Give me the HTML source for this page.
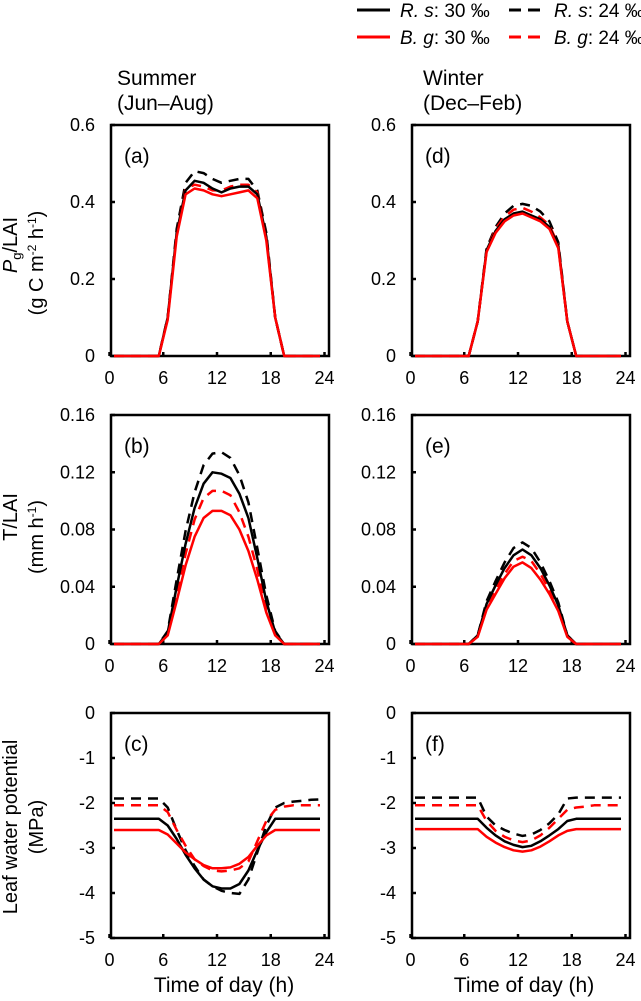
<!DOCTYPE html>
<html><head><meta charset="utf-8"><style>
html,body{margin:0;padding:0;background:#fff;}
svg{display:block;font-family:"Liberation Sans",Arial,sans-serif;}
</style></head><body>
<svg id="fig" width="641" height="1001" viewBox="0 0 641 1001" xmlns="http://www.w3.org/2000/svg">
<g font-size="19">
 <g><line x1="357" y1="10" x2="390" y2="10" stroke="#000" stroke-width="3"/><text x="400" y="17"><tspan font-style="italic">R. s</tspan>: 30 ‰</text></g>
 <g><line x1="509" y1="10" x2="546" y2="10" stroke="#000" stroke-width="3" stroke-dasharray="12,7"/><text x="554" y="17"><tspan font-style="italic">R. s</tspan>: 24 ‰</text></g>
 <g><line x1="357" y1="37" x2="390" y2="37" stroke="#f00" stroke-width="3"/><text x="400" y="44"><tspan font-style="italic">B. g</tspan>: 30 ‰</text></g>
 <g><line x1="509" y1="37" x2="546" y2="37" stroke="#f00" stroke-width="3" stroke-dasharray="12,7"/><text x="554" y="44"><tspan font-style="italic">B. g</tspan>: 24 ‰</text></g>
</g>
<text x="117" y="85" font-size="21">Summer</text>
<text x="117" y="110" font-size="21">(Jun–Aug)</text>
<text x="423" y="85" font-size="21">Winter</text>
<text x="423" y="110" font-size="21">(Dec–Feb)</text>
<g font-size="20">
 <text transform="translate(17,245) rotate(-90)" text-anchor="middle"><tspan font-style="italic">P</tspan><tspan font-size="13" dy="4">g</tspan><tspan dy="-4">/LAI</tspan></text>
 <text transform="translate(43,263) rotate(-90)" text-anchor="middle">(g C m<tspan font-size="12" dy="-7">-2</tspan><tspan dy="7"> h</tspan><tspan font-size="12" dy="-7">-1</tspan><tspan dy="7">)</tspan></text>
 <text transform="translate(17,517) rotate(-90)" text-anchor="middle">T/LAI</text>
 <text transform="translate(43,537) rotate(-90)" text-anchor="middle">(mm h<tspan font-size="12" dy="-7">-1</tspan><tspan dy="7">)</tspan></text>
 <text transform="translate(17,827) rotate(-90)" text-anchor="middle">Leaf water potential</text>
 <text transform="translate(43,827) rotate(-90)" text-anchor="middle">(MPa)</text>
</g>
<text x="224" y="992" font-size="21" text-anchor="middle">Time of day (h)</text>
<text x="524" y="992" font-size="21" text-anchor="middle">Time of day (h)</text>
</svg>
<script>
const hours=[0.5,1.5,2.5,3.5,4.5,5.5,6.5,7.5,8.5,9.5,10.5,11.5,12.5,13.5,14.5,15.5,16.5,17.5,18.5,19.5,20.5,21.5,22.5,23.5];
const xTicks=[0,6,12,18,24];
// (a) summer Pg/LAI
const aRs30=[0,0,0,0,0,0,0.1,0.32,0.43,0.455,0.45,0.435,0.425,0.435,0.44,0.44,0.42,0.31,0.1,0,0,0,0,0];
const aRs24=[0,0,0,0,0,0,0.1,0.33,0.45,0.48,0.475,0.46,0.45,0.455,0.46,0.46,0.43,0.32,0.1,0,0,0,0,0];
const aBg30=[0,0,0,0,0,0,0.094,0.31,0.42,0.435,0.43,0.42,0.415,0.42,0.425,0.43,0.41,0.3,0.1,0,0,0,0,0];
const aBg24=[0,0,0,0,0,0,0.1,0.32,0.435,0.445,0.44,0.43,0.43,0.44,0.445,0.445,0.425,0.31,0.1,0,0,0,0,0];
// (b) summer T/LAI
const bRs30=[0,0,0,0,0,0,0.008,0.04,0.07,0.095,0.112,0.12,0.119,0.116,0.105,0.088,0.06,0.03,0.008,0,0,0,0,0];
const bRs24=[0,0,0,0,0,0,0.009,0.045,0.079,0.106,0.125,0.133,0.134,0.13,0.118,0.099,0.067,0.034,0.009,0,0,0,0,0];
const bBg30=[0,0,0,0,0,0,0.006,0.03,0.055,0.075,0.088,0.093,0.093,0.09,0.08,0.065,0.045,0.022,0.006,0,0,0,0,0];
const bBg24=[0,0,0,0,0,0,0.007,0.035,0.063,0.087,0.102,0.107,0.107,0.104,0.092,0.075,0.052,0.025,0.007,0,0,0,0,0];
// (c) summer leaf water potential
const cRs30=[-2.35,-2.35,-2.35,-2.35,-2.35,-2.35,-2.5,-2.8,-3.15,-3.45,-3.7,-3.85,-3.9,-3.9,-3.8,-3.5,-3.05,-2.65,-2.35,-2.35,-2.35,-2.35,-2.35,-2.35];
const cRs24=[-1.9,-1.9,-1.9,-1.9,-1.9,-1.9,-2.1,-2.6,-3.05,-3.4,-3.7,-3.85,-3.95,-4.0,-4.02,-3.7,-3.1,-2.5,-2.1,-2.0,-1.97,-1.95,-1.93,-1.92];
const cBg30=[-2.6,-2.6,-2.6,-2.6,-2.6,-2.6,-2.7,-2.9,-3.1,-3.25,-3.38,-3.45,-3.45,-3.43,-3.35,-3.2,-2.95,-2.72,-2.6,-2.6,-2.6,-2.6,-2.6,-2.6];
const cBg24=[-2.05,-2.05,-2.05,-2.05,-2.05,-2.05,-2.2,-2.6,-2.95,-3.25,-3.4,-3.5,-3.52,-3.5,-3.45,-3.3,-2.85,-2.4,-2.15,-2.08,-2.05,-2.05,-2.05,-2.05];
// (d) winter Pg/LAI
const dRs30=[0,0,0,0,0,0,0,0.09,0.275,0.325,0.355,0.37,0.375,0.365,0.355,0.335,0.285,0.09,0,0,0,0,0,0];
const dRs24=[0,0,0,0,0,0,0,0.09,0.28,0.335,0.37,0.39,0.395,0.39,0.375,0.35,0.295,0.09,0,0,0,0,0,0];
const dBg30=[0,0,0,0,0,0,0,0.09,0.27,0.32,0.35,0.365,0.37,0.36,0.35,0.33,0.28,0.09,0,0,0,0,0,0];
const dBg24=[0,0,0,0,0,0,0,0.09,0.275,0.33,0.362,0.38,0.385,0.375,0.36,0.34,0.288,0.09,0,0,0,0,0,0];
// (e) winter T/LAI
const eRs30=[0,0,0,0,0,0,0,0.006,0.028,0.041,0.053,0.062,0.066,0.062,0.053,0.041,0.027,0.006,0,0,0,0,0,0];
const eRs24=[0,0,0,0,0,0,0,0.006,0.03,0.044,0.057,0.067,0.071,0.067,0.057,0.044,0.029,0.006,0,0,0,0,0,0];
const eBg30=[0,0,0,0,0,0,0,0.005,0.024,0.035,0.046,0.054,0.057,0.053,0.045,0.035,0.023,0.005,0,0,0,0,0,0];
const eBg24=[0,0,0,0,0,0,0,0.005,0.026,0.038,0.049,0.058,0.061,0.058,0.049,0.038,0.025,0.005,0,0,0,0,0,0];
// (f) winter leaf water potential
const fRs30=[-2.35,-2.35,-2.35,-2.35,-2.35,-2.35,-2.35,-2.35,-2.55,-2.72,-2.85,-2.93,-2.98,-2.95,-2.85,-2.72,-2.58,-2.4,-2.35,-2.35,-2.35,-2.35,-2.35,-2.35];
const fRs24=[-1.88,-1.88,-1.88,-1.88,-1.88,-1.88,-1.88,-1.88,-2.3,-2.5,-2.6,-2.68,-2.73,-2.7,-2.6,-2.45,-2.25,-1.9,-1.88,-1.88,-1.88,-1.88,-1.88,-1.88];
const fBg30=[-2.58,-2.58,-2.58,-2.58,-2.58,-2.58,-2.58,-2.58,-2.75,-2.88,-2.98,-3.05,-3.08,-3.05,-2.97,-2.85,-2.72,-2.62,-2.58,-2.58,-2.58,-2.58,-2.58,-2.58];
const fBg24=[-2.05,-2.05,-2.05,-2.05,-2.05,-2.05,-2.05,-2.05,-2.4,-2.62,-2.75,-2.83,-2.87,-2.83,-2.72,-2.55,-2.35,-2.15,-2.1,-2.08,-2.05,-2.05,-2.05,-2.05];
const pgTicks=["0","0.2","0.4","0.6"];
const tTicks=["0","0.04","0.08","0.12","0.16"];
const lwpTicks=["-5","-4","-3","-2","-1","0"];

const NS="http://www.w3.org/2000/svg";
const svg=document.getElementById('fig');
function mk(tag,attrs,parent){const e=document.createElementNS(NS,tag);for(const k in attrs)e.setAttribute(k,attrs[k]);parent.appendChild(e);return e;}

function panel(id,label,bx,top,bottom,ymin,ymax,ticks,series){
  const x0=bx-1.5, xs=(215)/24;
  const X=h=>x0+h*xs;
  const Y=v=>bottom-(v-ymin)/(ymax-ymin)*(bottom-top);
  const g=mk('g',{},svg);
  
  
  const frame=mk('rect',{x:bx,y:top,width:218,height:bottom-top,fill:'none',stroke:'#000','stroke-width':2.5},g);
  
  
  const lab=mk('text',{x:bx+13,y:top+38,'font-size':21},g);
  lab.textContent='('+id+')';
  
  
  ticks.forEach(t=>{
    const v=parseFloat(t), y=Y(v);
    const tk=mk('line',{x1:bx,x2:bx+4,y1:y,y2:y,stroke:'#000','stroke-width':2.5},g);
    
    
    const tx=mk('text',{x:bx-16,y:y+6,'font-size':18,'text-anchor':'end'},g);
    tx.textContent=t;
    
    
  });
  xTicks.forEach(h=>{
    const x=X(h);
    const tk=mk('line',{x1:x,x2:x,y1:bottom,y2:bottom-4,stroke:'#000','stroke-width':2.5},g);
    
    
    const tx=mk('text',{x:x,y:bottom+28,'font-size':18,'text-anchor':'middle'},g);
    tx.textContent=h;
    
    
  });
  series.forEach(s=>{
    const pts=hours.map((h,i)=>X(h).toFixed(1)+','+Y(s.v[i]).toFixed(1)).join(' ');
    const p=mk('polyline',{points:pts,fill:'none',stroke:s.c,'stroke-width':2.5,'stroke-linejoin':'round'},g);
    if(s.d)p.setAttribute('stroke-dasharray','10,7');
    
    
  });
}
function ser(rs30,rs24,bg30,bg24){return [
 {v:rs24,c:'#000',d:1,n:'line-rs-24'},{v:bg24,c:'#f00',d:1,n:'line-bg-24'},
 {v:rs30,c:'#000',d:0,n:'line-rs-30'},{v:bg30,c:'#f00',d:0,n:'line-bg-30'}];}
panel('a','a',111,125,356,0,0.6,pgTicks,ser(aRs30,aRs24,aBg30,aBg24));
panel('b','b',111,415,644,0,0.16,tTicks,ser(bRs30,bRs24,bBg30,bBg24));
panel('c','c',111,713,938,-5,0,lwpTicks,ser(cRs30,cRs24,cBg30,cBg24));
panel('d','d',412,125,356,0,0.6,pgTicks,ser(dRs30,dRs24,dBg30,dBg24));
panel('e','e',412,415,644,0,0.16,tTicks,ser(eRs30,eRs24,eBg30,eBg24));
panel('f','f',412,713,938,-5,0,lwpTicks,ser(fRs30,fRs24,fBg30,fBg24));
</script>
</body></html>
